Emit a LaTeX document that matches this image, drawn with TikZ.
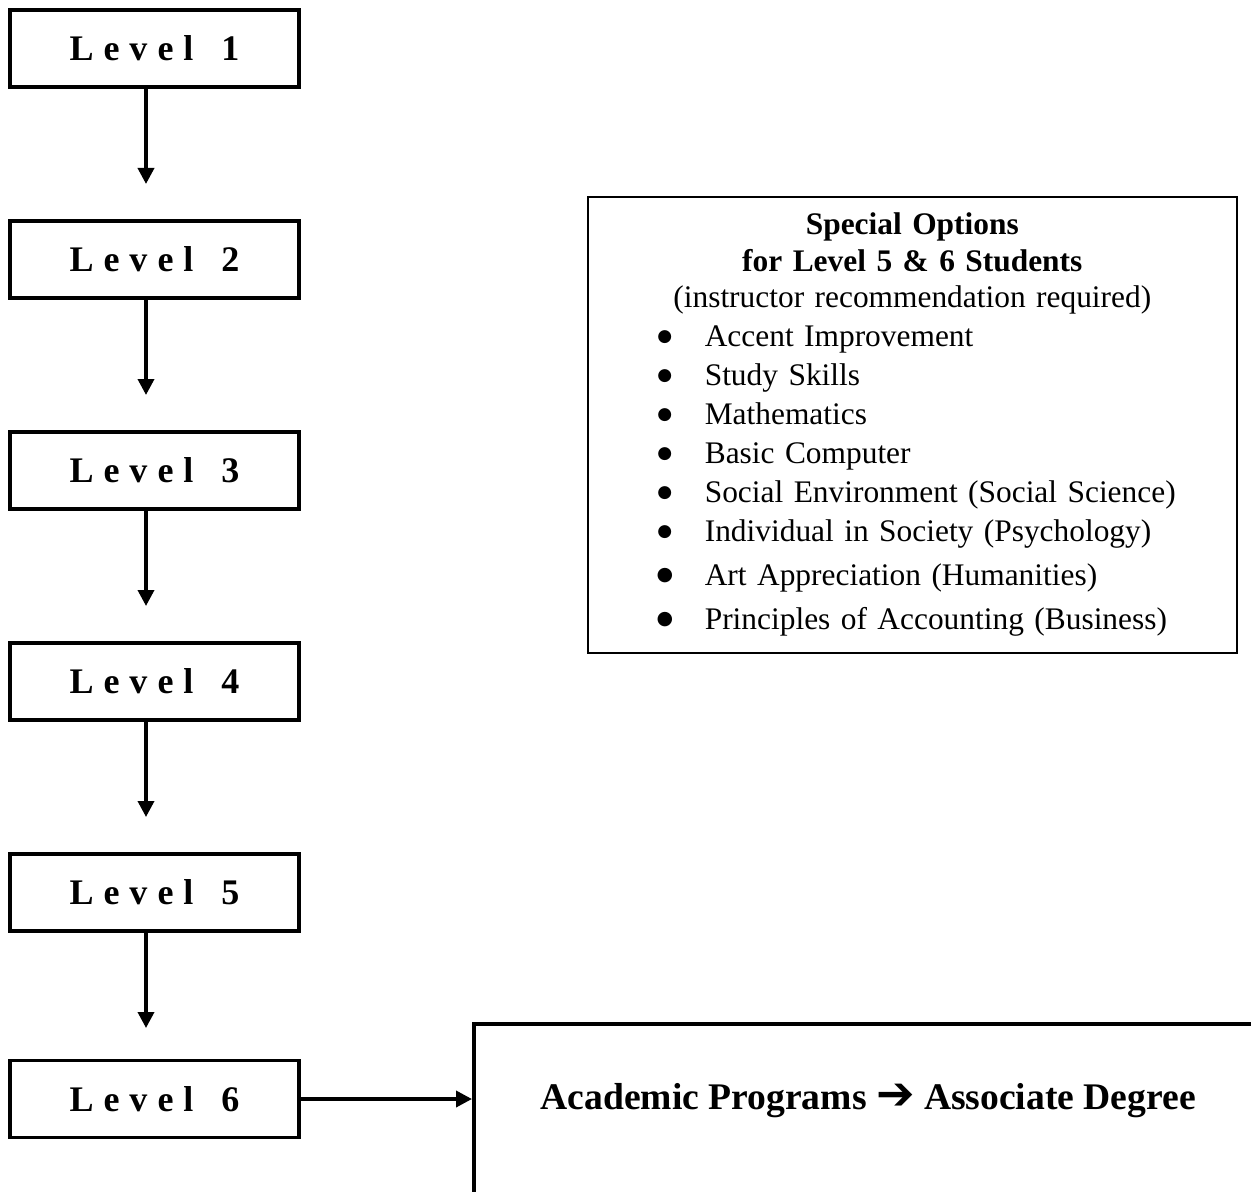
\documentclass[tikz,border=0pt]{standalone}
\usepackage{fontspec}
\setmainfont{Liberation Serif}
\newfontfamily\arrowfont{DejaVu Sans}
\usetikzlibrary{arrows.meta, positioning}

\newcommand{\levelname}[1]{L\kern5pt e\kern5pt v\kern5pt e\kern5pt l\kern14pt #1}
\newcommand{\optitem}[2][8.5]{\hspace*{33pt}\makebox[11pt][c]{\raisebox{2.6pt}{\arrowfont\fontsize{#1}{0}\selectfont ●}}\hspace{14.5pt}#2}

\begin{document}
\begin{tikzpicture}[x=0.5pt, y=-0.5pt,
  levelbox/.style={draw, line width=1.8pt, minimum width=144.5pt, minimum height=38.5pt, inner sep=0pt, font=\bfseries\fontsize{18}{18}\selectfont},
  down/.style={-{Triangle[width=8pt, length=8pt]}, line width=1.8pt}]
  \useasboundingbox (0,0) rectangle (1251,1192);
  \clip (0,0) rectangle (1251,1192);

  % Levels
  \node[levelbox] (lev1) at (154.5, 48.5) {\levelname{1}};
  \node[levelbox] (lev2) at (154.5, 259.5) {\levelname{2}};
  \node[levelbox] (lev3) at (154.5, 470.5) {\levelname{3}};
  \node[levelbox] (lev4) at (154.5, 681.5) {\levelname{4}};
  \node[levelbox] (lev5) at (154.5, 892.5) {\levelname{5}};
  \node[levelbox] (lev6) at (154.5, 1099) {\levelname{6}};

  % Arrows between levels
  \coordinate (tip1) at (146, 184);
  \coordinate (tip2) at (146, 395);
  \coordinate (tip3) at (146, 606);
  \coordinate (tip4) at (146, 817);
  \coordinate (tip5) at (146, 1028);
  \draw[down] (lev1.south -| tip1) -- (tip1);
  \draw[down] (lev2.south -| tip2) -- (tip2);
  \draw[down] (lev3.south -| tip3) -- (tip3);
  \draw[down] (lev4.south -| tip4) -- (tip4);
  \draw[down] (lev5.south -| tip5) -- (tip5);

  % Special options
  \node[draw, line width=0.8pt, anchor=north west, text width=324.5pt, minimum height=228pt, inner xsep=0pt, align=left, font=\fontsize{15.7}{19.5}\selectfont] (options) at (587, 196) {
    {\centering\bfseries Special Options\\[-1pt]
    for Level 5 \& 6 Students\\[-1.5pt]
    \mdseries (instructor recommendation required)\par}
    \optitem{Accent Improvement}\\
    \optitem{Study Skills}\\
    \optitem{Mathematics}\\
    \optitem{Basic Computer}\\
    \optitem{Social Environment (Social Science)}\\
    \optitem{Individual in Society (Psychology)}\\[2.5pt]
    \optitem[9.5]{Art Appreciation (Humanities)}\\[2.5pt]
    \optitem[9.5]{Principles of Accounting (Business)}
  };

  % Academic programs
  \node[draw, line width=2.2pt, anchor=north west, minimum width=394pt, inner sep=0pt, text height=42.5pt, text depth=60pt, font=\bfseries\fontsize{18.8}{18.8}\selectfont] (acad) at (472, 1022) {Academic Programs {\arrowfont\fontsize{23}{23}\selectfont ➔} Associate Degree};
  \draw[down] (lev6.east) -- (lev6.east -| acad.west);
\end{tikzpicture}
\end{document}
